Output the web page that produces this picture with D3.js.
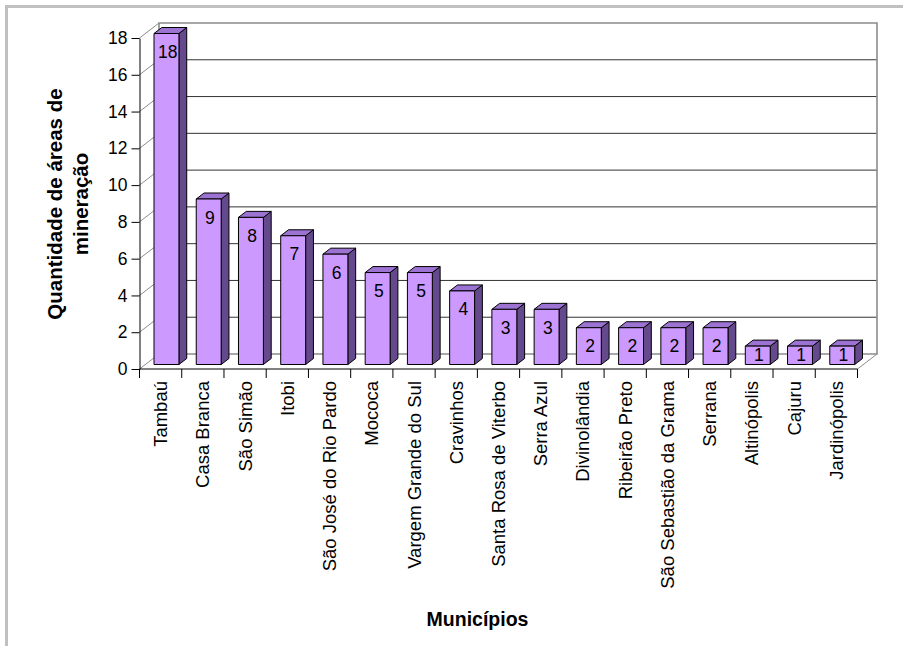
<!DOCTYPE html>
<html>
<head>
<meta charset="utf-8">
<script src="https://cdn.jsdelivr.net/npm/d3@7/dist/d3.min.js"></script>
<style>
  html, body { margin: 0; padding: 0; background: #fff; }
  svg { display: block; font-family: "Liberation Sans", Arial, sans-serif; }
</style>
</head>
<body>
<svg id="chart" width="903" height="646"></svg>
<script>
const categories = ["Tambaú", "Casa Branca", "São Simão", "Itobi", "São José do Rio Pardo", "Mococa",
  "Vargem Grande do Sul", "Cravinhos", "Santa Rosa de Viterbo", "Serra Azul", "Divinolândia",
  "Ribeirão Preto", "São Sebastião da Grama", "Serrana", "Altinópolis", "Cajuru", "Jardinópolis"];
const values = [18, 9, 8, 7, 6, 5, 5, 4, 3, 3, 2, 2, 2, 2, 1, 1, 1];
const yTicks = [0, 2, 4, 6, 8, 10, 12, 14, 16, 18];
const yTitleLines = ["Quantidade de áreas de", "mineração"];
const xTitle = "Municípios";

const svg = d3.select("#chart");

// layout
const X0 = 139.5, X1 = 857.5, Y0 = 369, Y18 = 38;
const DX = 19.5, DY = 15;           // depth offset of the 3D box
const ZF = 0.3, ZB = 0.7;           // bar depth range (fraction)

const x = d3.scaleBand().domain(categories).range([X0, X1]).padding(0);
const y = d3.scaleLinear().domain([0, 18]).range([Y0, Y18]);

const P = (sx, v, z) => [sx + z * DX, y(v) - z * DY];
const poly = pts => "M" + pts.map(p => p.join(",")).join("L") + "Z";

// outer frame
svg.append("rect").attr("x", 5).attr("y", 5).attr("width", 903).attr("height", 3).attr("fill", "#c0c0c0");
svg.append("rect").attr("x", 5).attr("y", 5).attr("width", 3).attr("height", 646).attr("fill", "#c0c0c0");

const plot = svg.append("g");

// back wall
plot.append("path")
  .attr("d", poly([P(X0, 0, 1), P(X0, 18, 1), P(X1, 18, 1), P(X1, 0, 1)]))
  .attr("fill", "#fff").attr("stroke", "none");

// gridlines on back wall
yTicks.filter(t => t > 0 && t < 18).forEach(t => {
  plot.append("line")
    .attr("x1", P(X0, t, 1)[0]).attr("y1", P(X0, t, 1)[1])
    .attr("x2", P(X1, t, 1)[0]).attr("y2", P(X1, t, 1)[1])
    .attr("stroke", "#333").attr("stroke-width", 1);
});

// back wall edges (top, right, floor back)
plot.append("path")
  .attr("d", "M" + P(X0, 0, 1).join(",") + "L" + P(X0, 18, 1).join(",") + "L" + P(X1, 18, 1).join(",") + "L" + P(X1, 0, 1).join(",") + "L" + P(X0, 0, 1).join(","))
  .attr("fill", "none").attr("stroke", "#8c8c8c").attr("stroke-width", 1.6);

// side wall diagonals
yTicks.forEach(t => {
  plot.append("line")
    .attr("x1", X0).attr("y1", y(t))
    .attr("x2", P(X0, t, 1)[0]).attr("y2", P(X0, t, 1)[1])
    .attr("stroke", "#8c8c8c").attr("stroke-width", 1);
});
// floor right diagonal
plot.append("line")
  .attr("x1", X1).attr("y1", y(0))
  .attr("x2", P(X1, 0, 1)[0]).attr("y2", P(X1, 0, 1)[1])
  .attr("stroke", "#8c8c8c").attr("stroke-width", 1);

// bars
const bw = x.bandwidth() * 0.59;
const bars = plot.selectAll("g.bar").data(categories.map((c, i) => ({ c, v: values[i] }))).join("g").attr("class", "bar");
bars.each(function(d) {
  const g = d3.select(this);
  const cx = x(d.c) + x.bandwidth() / 2;
  const xl = cx - bw / 2, xr = cx + bw / 2;
  // side
  g.append("path").attr("d", poly([P(xr, 0, ZF), P(xr, d.v, ZF), P(xr, d.v, ZB), P(xr, 0, ZB)]))
    .attr("fill", "#644a8c").attr("stroke", "#000").attr("stroke-width", 1).attr("stroke-linejoin", "round");
  // top
  g.append("path").attr("d", poly([P(xl, d.v, ZF), P(xr, d.v, ZF), P(xr, d.v, ZB), P(xl, d.v, ZB)]))
    .attr("fill", "#9c72d2").attr("stroke", "#000").attr("stroke-width", 1).attr("stroke-linejoin", "round");
  // front
  g.append("path").attr("d", poly([P(xl, 0, ZF), P(xl, d.v, ZF), P(xr, d.v, ZF), P(xr, 0, ZF)]))
    .attr("fill", "#cc99ff").attr("stroke", "#000").attr("stroke-width", 1).attr("stroke-linejoin", "round");
  // value label
  const top = P(xl, d.v, ZF)[1], bottom = P(xl, 0, ZF)[1];
  const h = bottom - top;
  const base = h >= 30 ? top + 24.5 : (top + bottom) / 2 + 6;
  g.append("text")
    .attr("x", cx + ZF * DX + 1.2).attr("y", base)
    .attr("text-anchor", "middle").attr("font-size", 17.5).attr("fill", "#000")
    .text(d.v);
});

// y axis
const yAxis = d3.axisLeft(y).tickValues(yTicks).tickSize(8).tickPadding(4).tickSizeOuter(0);
const yg = svg.append("g").attr("transform", `translate(${X0},0)`).call(yAxis);
yg.select(".domain").attr("stroke", "#000");
yg.selectAll(".tick line").attr("stroke", "#000");
yg.selectAll(".tick text").attr("font-size", 17.5).attr("font-family", "Liberation Sans, Arial, sans-serif").attr("fill", "#000");

// x axis (ticks at band boundaries, labels at centers)
svg.append("line").attr("x1", X0).attr("x2", X1).attr("y1", Y0).attr("y2", Y0).attr("stroke", "#000");
const bounds = categories.map(c => x(c)).concat([X1]);
svg.selectAll("line.xtick").data(bounds).join("line").attr("class", "xtick")
  .attr("x1", d => d).attr("x2", d => d).attr("y1", Y0).attr("y2", Y0 + 9)
  .attr("stroke", "#000");
svg.selectAll("text.xlab").data(categories).join("text").attr("class", "xlab")
  .attr("transform", d => `translate(${x(d) + x.bandwidth() / 2},${Y0 + 12}) rotate(-90)`)
  .attr("text-anchor", "end").attr("dy", "0.35em")
  .attr("font-size", 18.5).attr("fill", "#000")
  .text(d => d);

// axis titles
const yt = svg.append("text")
  .attr("transform", "translate(0,204) rotate(-90)")
  .attr("text-anchor", "middle").attr("font-size", 20.5).attr("font-weight", "bold").attr("fill", "#000");
yt.append("tspan").attr("x", 0).attr("y", 61.5).text(yTitleLines[0]);
yt.append("tspan").attr("x", 0).attr("y", 88).text(yTitleLines[1]);

svg.append("text").attr("x", 477.5).attr("y", 626)
  .attr("text-anchor", "middle").attr("font-size", 19.5).attr("font-weight", "bold").attr("fill", "#000")
  .text(xTitle);
</script>
</body>
</html>
